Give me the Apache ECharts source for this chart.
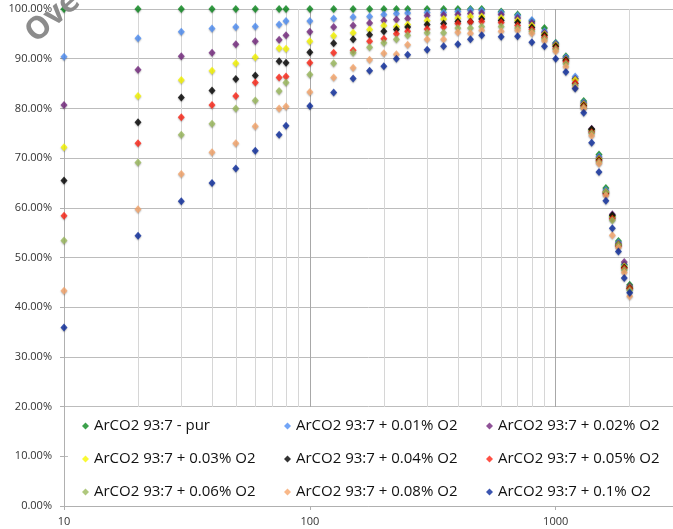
<!DOCTYPE html>
<html>
<head>
<meta charset="utf-8">
<script src="https://cdn.jsdelivr.net/npm/echarts@6/dist/echarts.min.js"></script>
<style>html,body{margin:0;padding:0;background:#fff;}#c{width:673px;height:529px;}</style>
</head>
<body>
<div id="c"></div>
<script>
const xValues = [10,20,30,40,50,60,75,80,100,125,150,175,200,225,250,300,350,400,450,500,600,700,800,900,1000,1100,1200,1300,1400,1500,1600,1700,1800,1900,2000];

const seriesNames = [
  'ArCO2 93:7 - pur',
  'ArCO2 93:7 + 0.01% O2',
  'ArCO2 93:7 + 0.02% O2',
  'ArCO2 93:7 + 0.03% O2',
  'ArCO2 93:7 + 0.04% O2',
  'ArCO2 93:7 + 0.05% O2',
  'ArCO2 93:7 + 0.06% O2',
  'ArCO2 93:7 + 0.08% O2',
  'ArCO2 93:7 + 0.1% O2'
];

const pur  = [100,100,100,100,100,100,100,100,100,100,100,100,100,100,100,100,100,100,100,100,99.5,98.9,97.6,96.2,93.2,90.5,86.0,81.5,75.8,70.7,64.0,58.3,53.3,48.6,44.5];
const o001 = [90.4,94.1,95.4,96.1,96.4,96.5,96.9,97.6,97.6,98.1,98.4,98.5,98.9,99.1,99.2,99.3,99.3,99.5,99.8,99.7,99.3,98.7,97.8,95.5,93.1,90.3,86.4,81.2,75.5,70.3,63.6,58.0,53.0,48.5,44.0];
const o002 = [80.7,87.8,90.5,91.2,92.9,93.5,93.8,94.7,95.4,96.4,96.7,97.2,97.7,97.9,98.1,98.7,98.8,98.9,99.1,99.2,98.9,98.2,97.2,95.2,92.9,90.0,85.9,81.0,75.9,70.0,63.3,58.7,52.8,49.1,44.2];
const o003 = [72.2,82.5,85.7,87.6,89.1,90.3,92.1,92.0,93.5,94.6,95.2,95.9,96.7,96.5,96.9,97.7,98.0,98.2,98.5,98.5,98.2,97.7,96.7,94.9,92.7,89.8,85.7,80.8,75.6,69.8,63.2,58.2,52.6,48.2,43.9];
const o004 = [65.5,77.2,82.2,83.6,85.9,86.6,89.5,89.2,91.3,93.1,93.9,94.8,95.5,95.9,96.4,96.9,97.1,97.5,97.5,98.0,97.7,97.3,96.3,94.7,92.5,89.7,85.0,80.6,75.8,69.6,63.0,58.5,52.5,48.0,43.8];
const o005 = [58.4,73.0,78.2,80.7,82.5,85.2,86.2,86.4,89.2,91.2,91.7,93.5,94.0,95.0,95.5,96.0,96.4,97.1,97.4,97.5,97.3,96.7,95.9,94.3,92.1,89.4,85.1,80.4,75.2,69.4,62.8,57.8,52.3,47.8,43.7];
const o006 = [53.4,69.1,74.7,76.9,80.0,81.6,83.5,85.2,86.8,89.1,91.2,92.3,93.2,93.9,94.7,95.2,95.2,96.2,96.2,96.5,96.5,96.2,95.5,94.0,91.9,89.0,84.6,80.2,75.0,69.2,63.2,57.5,52.5,47.5,43.4];
const o008 = [43.3,59.7,66.8,71.2,73.0,76.4,80.0,80.4,83.3,86.2,88.2,89.8,91.1,90.9,92.8,93.9,93.9,95.3,95.1,95.7,95.5,95.7,95.1,93.6,91.5,88.4,84.2,80.0,74.5,68.9,62.5,54.5,52.0,47.0,42.2];
const o010 = [35.9,54.4,61.3,65.0,67.9,71.5,74.7,76.5,80.5,83.2,86.0,87.6,88.5,90.0,90.8,91.8,92.5,92.9,93.9,94.7,94.4,94.5,93.3,92.5,90.0,87.3,84.0,79.1,73.1,67.2,61.4,55.9,51.2,45.9,42.9];

const yTicks = [0,10,20,30,40,50,60,70,80,90,100];
const minorGridX = [20,30,40,50,60,70,80,90,200,300,400,500,600,700,800,900,2000];

const seriesValues = [pur,o001,o002,o003,o004,o005,o006,o008,o010];
const colors = ['#0b8a1e','#4f8ff5','#74287e','#f7f700','#000000','#ff2616','#9bba5c','#f8a66c','#0a2a9c'];

const chart = echarts.init(document.getElementById('c'), null, {renderer:'canvas'});

const series = seriesNames.map((name, i) => ({
  name: name,
  type: 'scatter',
  symbol: 'diamond',
  symbolSize: [7, 8],
  itemStyle: {color: colors[i], shadowColor: 'rgba(0,0,0,0.35)', shadowBlur: 1.5, shadowOffsetY: 1},
  z: 3,
  data: xValues.map((x, j) => [x, seriesValues[i][j]])
}));

series.unshift({
  name: 'minorgrid',
  type: 'line',
  data: [],
  z: 1,
  silent: true,
  markLine: {
    silent: true,
    z: 1,
    symbol: 'none',
    animation: false,
    label: {show: false},
    lineStyle: {color: '#d6d6d6', width: 1, type: 'solid'},
    data: minorGridX.map(v => ({xAxis: v}))
  }
});

chart.setOption({
  animation: false,
  backgroundColor: '#fff',
  grid: {left: 64, top: 9, right: -6, bottom: 23, containLabel: false},
  xAxis: {
    type: 'log',
    logBase: 10,
    min: 10,
    max: 3000,
    axisLine: {show: true, lineStyle: {color: '#b0b0b0'}},
    axisTick: {show: true, length: 4, lineStyle: {color: '#b0b0b0'}},
    axisLabel: {
      color: '#333', fontSize: 11, fontFamily: 'Open Sans, sans-serif', margin: 10,
      showMaxLabel: false,
      formatter: v => String(Math.round(v))
    },
    splitLine: {show: true, lineStyle: {color: '#a8a8a8', width: 1}},
    minorSplitLine: {show: false}
  },
  yAxis: {
    type: 'value',
    min: 0,
    max: 100,
    interval: 10,
    axisLine: {show: true, lineStyle: {color: '#b0b0b0'}},
    axisTick: {show: true, length: 4, lineStyle: {color: '#b0b0b0'}},
    axisLabel: {
      color: '#333', fontSize: 11, fontFamily: 'Open Sans, sans-serif', margin: 12,
      formatter: v => v.toFixed(2) + '%'
    },
    splitLine: {show: true, lineStyle: {color: '#bcbcbc', width: 1}}
  },
  legend: {
    data: seriesNames,
    orient: 'horizontal',
    left: 68,
    top: 407,
    width: 620,
    padding: [7, 0, 2, 14],
    backgroundColor: '#ffffff',
    icon: 'diamond',
    itemWidth: 7,
    itemHeight: 7,
    itemGap: 9,
    z: 20,
    selectedMode: false,
    textStyle: {
      color: '#111', fontSize: 15, fontFamily: 'Open Sans, sans-serif',
      width: 181, lineHeight: 24, overflow: 'none'
    }
  },
  graphic: [{
    type: 'text',
    x: 30,
    y: 37,
    rotation: 0.72,
    z: 100,
    silent: true,
    style: {
      text: 'Ove',
      fill: '#8c8c8c',
      font: 'bold 31px "Open Sans", sans-serif',
      verticalAlign: 'middle',
      align: 'left',
      shadowColor: 'rgba(0,0,0,0.45)',
      shadowBlur: 3,
      shadowOffsetX: 1,
      shadowOffsetY: 2
    }
  }],
  series: series
});
</script>
</body>
</html>
